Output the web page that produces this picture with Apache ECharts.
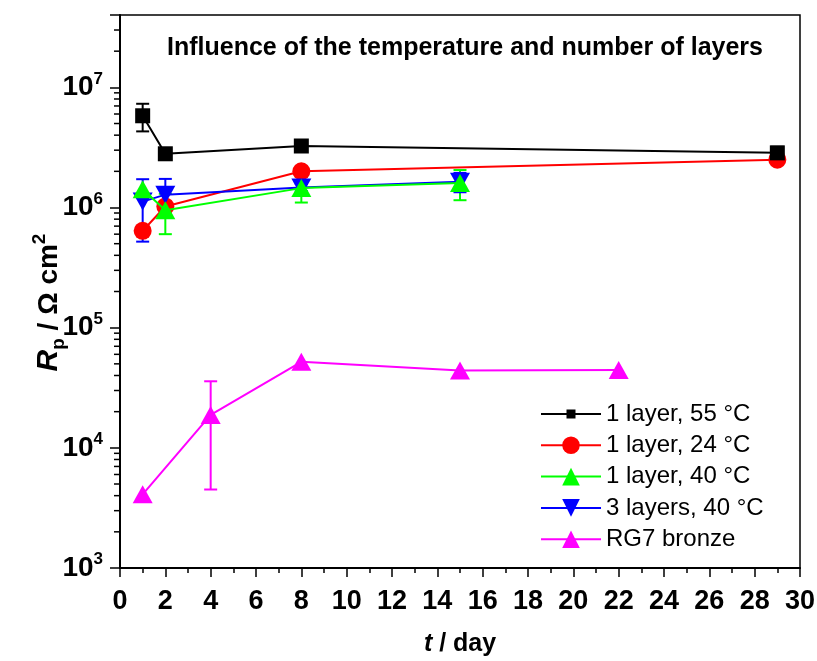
<!DOCTYPE html>
<html><head><meta charset="utf-8">
<script src="https://cdn.jsdelivr.net/npm/echarts@6/dist/echarts.min.js"></script>
<style>html,body{margin:0;padding:0;background:#fff}#c{width:817px;height:661px}</style>
</head><body><div id="c"></div>
<script>
// ---- data ----
const seriesNames = ['1 layer, 55 °C', '1 layer, 24 °C', '1 layer, 40 °C', '3 layers, 40 °C', 'RG7 bronze'];
const days55 = [1, 2, 8, 29];
const rp55 = [5.8e6, 2.8e6, 3.25e6, 2.85e6];
const err55 = [1.5e6, 0, 0.3e6, 0.35e6];
const days24 = [1, 2, 8, 29];
const rp24 = [6.4e5, 1.02e6, 2.0e6, 2.5e6];
const err24 = [0, 0, 0, 0];
const days40 = [1, 2, 8, 15];
const rp40 = [1.42e6, 9.5e5, 1.45e6, 1.6e6];
const err40 = [0, 3.5e5, 3.5e5, 4.5e5];
const days3L = [1, 2, 8, 15];
const rp3L = [1.12e6, 1.28e6, 1.47e6, 1.64e6];
const err3L = [6.0e5, 4.5e5, 1.0e5, 3.0e5];
const daysRG7 = [1, 4, 8, 15, 22];
const rpRG7 = [4.1e3, 1.88e4, 5.2e4, 4.4e4, 4.45e4];
const errRG7Low = [0, 1.43e4, 0, 0, 0];
const errRG7High = [0, 1.7e4, 0, 0, 0];
const xTickLabels = ['0','2','4','6','8','10','12','14','16','18','20','22','24','26','28','30'];
const yMinorTickValues = [2e3,3e3,4e3,5e3,6e3,7e3,8e3,9e3,2e4,3e4,4e4,5e4,6e4,7e4,8e4,9e4,2e5,3e5,4e5,5e5,6e5,7e5,8e5,9e5,2e6,3e6,4e6,5e6,6e6,7e6,8e6,9e6,2e7,3e7];
const titleText = 'Influence of the temperature and number of layers';

// ---- chart ----
const FONT = "'Liberation Sans', Arial, sans-serif";
const colors = ['#000000', '#ff0000', '#00ff00', '#0000ff', '#ff00ff'];
const symbols = ['rect', 'circle', 'triangle', 'path://M0,0L20,0L10,18Z', 'triangle'];
const sizes = [15, 18, [20, 18], [20, 18], [20, 18]];
const zLevels = [8, 4, 6, 5, 7];
const dayArr = [days55, days24, days40, days3L, daysRG7];
const valArr = [rp55, rp24, rp40, rp3L, rpRG7];
const lowArr = [err55, err24, err40, err3L, errRG7Low];
const highArr = [err55, err24, err40, err3L, errRG7High];

function errRender(color) {
  return function (params, api) {
    const x = api.value(0), lo = api.value(1), hi = api.value(2);
    const pl = api.coord([x, lo]), ph = api.coord([x, hi]);
    const hw = 6.5, st = {stroke: color, lineWidth: 2};
    return {type: 'group', children: [
      {type: 'line', shape: {x1: ph[0], y1: ph[1], x2: pl[0], y2: pl[1]}, style: st},
      {type: 'line', shape: {x1: ph[0] - hw, y1: ph[1], x2: ph[0] + hw, y2: ph[1]}, style: st},
      {type: 'line', shape: {x1: pl[0] - hw, y1: pl[1], x2: pl[0] + hw, y2: pl[1]}, style: st}
    ]};
  };
}

const series = [];
[0, 1, 2, 3, 4].forEach(function (i) {
  const errData = [];
  dayArr[i].forEach(function (d, k) {
    if (lowArr[i][k] > 0 || highArr[i][k] > 0) {
      errData.push([d, valArr[i][k] - lowArr[i][k], valArr[i][k] + highArr[i][k]]);
    }
  });
  if (errData.length) {
    series.push({
      type: 'custom', name: seriesNames[i] + ' err', data: errData,
      encode: {x: 0, y: [1, 2]}, renderItem: errRender(colors[i]), z: 2, silent: true
    });
  }
  series.push({
    type: 'line', name: seriesNames[i],
    data: dayArr[i].map(function (d, k) { return [d, valArr[i][k]]; }),
    symbol: symbols[i], symbolSize: sizes[i], showSymbol: true,
    color: colors[i],
    lineStyle: {color: colors[i], width: 2},
    itemStyle: {color: colors[i]},
    z: zLevels[i]
  });
});

// y minor ticks (log decades)
series.push({
  type: 'custom', name: 'yminor', silent: true,
  data: yMinorTickValues.map(function (v) { return [0, v]; }),
  encode: {x: 0, y: 1},
  renderItem: function (params, api) {
    const p = api.coord([0, api.value(1)]);
    return {type: 'line', shape: {x1: p[0] - 6, y1: p[1], x2: p[0], y2: p[1]}, style: {stroke: '#000', lineWidth: 1.5}};
  },
  z: 10
});

const squareIcon = 'path://M0,0h0.01v0.01h-0.01Z M59.99,21.99h0.01v0.01h-0.01Z M0,10h60v2h-60Z M25.5,6.5h9v9h-9Z';

const chart = echarts.init(document.getElementById('c'), null, {renderer: 'canvas'});
chart.setOption({
  animation: false,
  backgroundColor: '#ffffff',
  title: {
    text: titleText, left: 460, textAlign: 'center', top: 31,
    textStyle: {fontFamily: FONT, fontSize: 25, fontWeight: 'bold', color: '#000'}
  },
  grid: {left: 120, right: 17, top: 15, bottom: 93, show: true, borderColor: '#000', borderWidth: 1.5,
    backgroundColor: 'transparent', outerBoundsMode: 'none', containLabel: false},
  legend: {
    data: [{name: seriesNames[0], icon: squareIcon}, seriesNames[1], seriesNames[2], seriesNames[3], seriesNames[4]],
    orient: 'vertical', left: 535, top: 397,
    itemWidth: 60, itemHeight: 22, itemGap: 7.3,
    textStyle: {fontFamily: FONT, fontSize: 24, color: '#000', lineHeight: 18}
  },
  xAxis: {
    type: 'value', min: 0, max: 30, interval: 2,
    name: '{i|t} / day', nameLocation: 'middle', nameGap: 64, nameMoveOverlap: false,
    nameTextStyle: {fontFamily: FONT, fontSize: 25, fontWeight: 'bold', color: '#000',
      rich: {i: {fontFamily: FONT, fontSize: 25, fontWeight: 'bold', fontStyle: 'italic', color: '#000'}}},
    axisLine: {lineStyle: {color: '#000', width: 2}},
    axisTick: {length: 9, lineStyle: {color: '#000', width: 1.5}},
    minorTick: {show: true, splitNumber: 2, length: 5, lineStyle: {color: '#000', width: 1.5}},
    splitLine: {show: false},
    axisLabel: {
      margin: 20, fontFamily: FONT, fontSize: 27, fontWeight: 'bold', color: '#000',
      formatter: function (v) { return xTickLabels[Math.round(v / 2)]; }
    }
  },
  yAxis: {
    type: 'log', logBase: 10, min: 1000, max: 4e7,
    name: '{i|R}{sub|p} / Ω cm{sup|2}', nameLocation: 'middle', nameRotate: 90, nameGap: 52, nameMoveOverlap: false,
    nameTextStyle: {fontFamily: FONT, fontSize: 28, fontWeight: 'bold', color: '#000', lineHeight: 38,
      padding: [0, 22, 0, 0],
      rich: {
        i: {fontFamily: FONT, fontSize: 30, fontWeight: 'bold', fontStyle: 'italic', color: '#000', lineHeight: 38},
        sub: {fontFamily: FONT, fontSize: 19, fontWeight: 'bold', color: '#000', verticalAlign: 'bottom'},
        sup: {fontFamily: FONT, fontSize: 19, fontWeight: 'bold', color: '#000', verticalAlign: 'top'}
      }},
    axisLine: {lineStyle: {color: '#000', width: 2}},
    axisTick: {length: 10, lineStyle: {color: '#000', width: 1.5}},
    splitLine: {show: false},
    axisLabel: {
      margin: 17, fontFamily: FONT, fontSize: 28, fontWeight: 'bold', color: '#000', lineHeight: 34,
      formatter: function (v) {
        const e = Math.log10(v);
        if (Math.abs(e - Math.round(e)) > 1e-6) return '';
        return '10{sup|' + Math.round(e) + '}';
      },
      rich: {sup: {fontFamily: FONT, fontSize: 17, fontWeight: 'bold', color: '#000', verticalAlign: 'top'}}
    }
  },
  series: series
});
</script>
</body></html>
